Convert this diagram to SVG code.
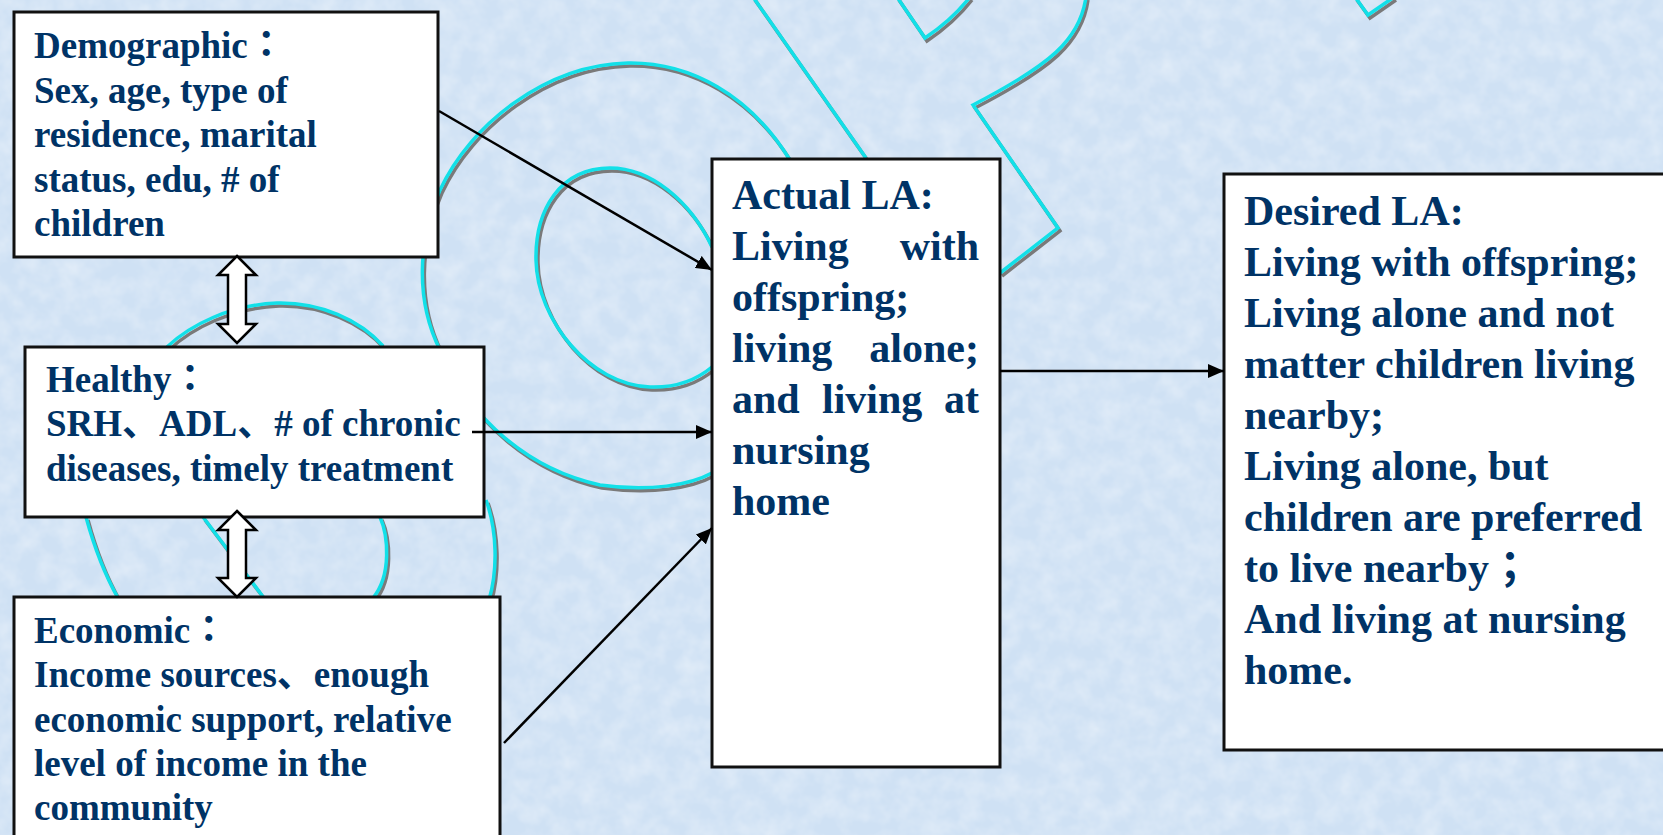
<svg xmlns="http://www.w3.org/2000/svg" xmlns:xlink="http://www.w3.org/1999/xlink" width="1663" height="835" viewBox="0 0 1663 835">
<style>
.box{fill:#ffffff;stroke:#111111;stroke-width:3}
.t37{font-family:"Liberation Serif","Times New Roman","Noto Sans CJK JP",serif;font-weight:bold;font-size:37px;fill:#003366}
.t42{font-family:"Liberation Serif","Times New Roman","Noto Sans CJK JP",serif;font-weight:bold;font-size:42px;fill:#003366}
.conn{stroke:#000000;stroke-width:2.5;fill:none}
.dbl{fill:#ffffff;stroke:#000000;stroke-width:2.5;stroke-linejoin:miter}
.deco{fill:none;stroke-width:3.5;stroke-linejoin:miter}
.shadow{stroke:#7a7a7a}
.cyan{stroke:#12e0e8}
</style>
<defs>
<marker id="ah" markerUnits="userSpaceOnUse" markerWidth="18" markerHeight="14" refX="16" refY="7" orient="auto">
<path d="M0,0 L16,7 L0,14 z" fill="#000000"/>
</marker>
<filter id="tex" x="0" y="0" width="100%" height="100%">
<feTurbulence type="fractalNoise" baseFrequency="0.05" numOctaves="3" seed="7"/>
<feColorMatrix type="matrix" values="0 0 0 0 1  0 0 0 0 1  0 0 0 0 1  0.6 0 0 0 -0.2"/>
</filter>
<g id="decoPaths">
<path d="M 790,160 C 750,95 690,62 628,63 C 545,65 470,125 440,190 C 418,240 415,300 440,350 C 470,420 530,470 600,485 C 650,492 690,485 712,473"/>
<path d="M 712,247 C 690,200 650,168 610,168 C 560,168 535,210 536,260 C 537,320 590,385 650,387 C 680,388 700,377 712,367"/>
<path d="M 753,-3 L 866,158"/>
<path d="M 897,-3 L 925,38 Q 952,20 970,-3"/>
<path d="M 1086,-3 C 1080,40 1050,65 973,105 L 1058,228 L 1000,273"/>
<path d="M 1355,-3 L 1368,15 L 1394,-3"/>
<path d="M 167,347 C 190,325 230,305 277,303 C 320,302 360,320 383,346"/>
<path d="M 86,517 C 95,550 105,575 118,598"/>
<path d="M 203,517 L 264,598"/>
<path d="M 380,517 C 388,535 392,575 373,598"/>
<path d="M 486,500 C 497,530 498,570 489,600"/>
</g>
</defs>
<rect x="0" y="0" width="1663" height="835" fill="#cfe1f4"/>
<rect x="0" y="0" width="1663" height="835" filter="url(#tex)"/>
<g id="decoration" class="deco">
<use xlink:href="#decoPaths" href="#decoPaths" class="shadow" transform="translate(2,3)"/>
<use xlink:href="#decoPaths" href="#decoPaths" class="cyan"/>
</g>
<g id="demographic">
<rect class="box" x="14" y="12" width="424" height="245"/>
<text class="t37" x="34" y="58">Demographic：</text>
<text class="t37" x="34" y="103">Sex, age, type of</text>
<text class="t37" x="34" y="147">residence, marital</text>
<text class="t37" x="34" y="192">status, edu, # of</text>
<text class="t37" x="34" y="236">children</text>
</g>
<g id="healthy">
<rect class="box" x="25" y="347" width="459" height="170"/>
<text class="t37" x="46" y="392">Healthy：</text>
<text class="t37" x="46" y="436">SRH、ADL、# of chronic</text>
<text class="t37" x="46" y="481">diseases, timely treatment</text>
</g>
<g id="economic">
<rect class="box" x="14" y="597" width="486" height="300"/>
<text class="t37" x="34" y="643">Economic：</text>
<text class="t37" x="34" y="687">Income sources、enough</text>
<text class="t37" x="34" y="732">economic support, relative</text>
<text class="t37" x="34" y="776">level of income in the</text>
<text class="t37" x="34" y="820">community</text>
</g>
<g id="actual">
<rect class="box" x="712" y="159" width="288" height="608"/>
<text class="t42" x="732" y="209">Actual LA:</text>
<text class="t42" x="732" y="260">Living</text>
<text class="t42" x="979" y="260" text-anchor="end">with</text>
<text class="t42" x="732" y="311">offspring;</text>
<text class="t42" x="732" y="362">living</text>
<text class="t42" x="979" y="362" text-anchor="end">alone;</text>
<text class="t42" x="732" y="413">and</text>
<text class="t42" x="822" y="413">living</text>
<text class="t42" x="979" y="413" text-anchor="end">at</text>
<text class="t42" x="732" y="464">nursing</text>
<text class="t42" x="732" y="515">home</text>
</g>
<g id="desired">
<rect class="box" x="1224" y="174" width="460" height="576"/>
<text class="t42" x="1244" y="225">Desired LA:</text>
<text class="t42" x="1244" y="276">Living with offspring;</text>
<text class="t42" x="1244" y="327">Living alone and not</text>
<text class="t42" x="1244" y="378">matter children living</text>
<text class="t42" x="1244" y="429">nearby;</text>
<text class="t42" x="1244" y="480">Living alone, but</text>
<text class="t42" x="1244" y="531">children are preferred</text>
<text class="t42" x="1244" y="582">to live nearby；</text>
<text class="t42" x="1244" y="633">And living at nursing</text>
<text class="t42" x="1244" y="684">home.</text>
</g>
<g id="connectors">
<line class="conn" x1="439" y1="111" x2="712" y2="270" marker-end="url(#ah)"/>
<line class="conn" x1="472" y1="432" x2="712" y2="432" marker-end="url(#ah)"/>
<line class="conn" x1="504" y1="743" x2="712" y2="528" marker-end="url(#ah)"/>
<line class="conn" x1="1000" y1="371" x2="1224" y2="371" marker-end="url(#ah)"/>
<polygon class="dbl" points="237,256 256,275 246,275 246,324 256,324 237,343 218,324 228,324 228,275 218,275"/>
<polygon class="dbl" points="237,511 256,530 246,530 246,578 256,578 237,597 218,578 228,578 228,530 218,530"/>
</g>
</svg>
